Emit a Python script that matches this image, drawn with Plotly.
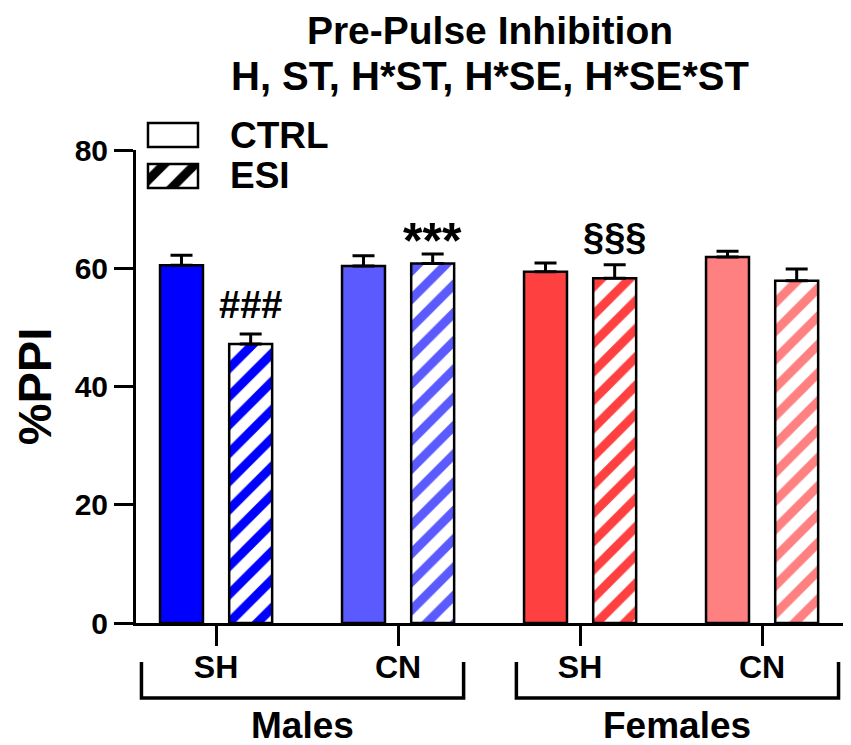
import plotly.graph_objects as go

# ---- data ----
group_ticks = ["SH", "CN", "SH", "CN"]
sex_labels = ["Males", "Females"]
group_colors = ["#0000FF", "#5A5AFF", "#FF4040", "#FF8080"]
ctrl_mean = [60.5, 60.4, 59.4, 61.9]
ctrl_sem = [1.7, 1.7, 1.5, 1.0]
esi_mean = [47.2, 60.8, 58.3, 57.9]
esi_sem = [1.7, 1.6, 2.3, 2.0]
sig_labels = ["###", "***", "§§§", ""]
series_names = ["CTRL", "ESI"]
title_lines = ["Pre-Pulse Inhibition", "H, ST, H*ST, H*SE, H*SE*ST"]

FONT = "Liberation Sans"
xpos = list(range(len(group_ticks)))

fig = go.Figure()

fig.add_trace(go.Bar(
    x=xpos, y=ctrl_mean, name=series_names[0],
    marker=dict(color=group_colors, line=dict(color="black", width=2.5)),
    error_y=dict(type="data", array=ctrl_sem, symmetric=False,
                 arrayminus=[0] * 4, color="black", thickness=3, width=11),
    showlegend=False,
))
fig.add_trace(go.Bar(
    x=xpos, y=esi_mean, name=series_names[1],
    marker=dict(color=group_colors, line=dict(color="black", width=2.5),
                pattern=dict(shape="/", bgcolor=group_colors, fgcolor="white",
                             size=20, solidity=0.45, fillmode="replace")),
    error_y=dict(type="data", array=esi_sem, symmetric=False,
                 arrayminus=[0] * 4, color="black", thickness=3, width=11),
    showlegend=False,
))

# legend swatches (drawn as bars on an auxiliary axis pair)
fig.add_trace(go.Bar(
    x=[1, 1], y=[0, 1], base=0, orientation="h", width=0.585,
    xaxis="x2", yaxis="y2", showlegend=False, hoverinfo="skip",
    marker=dict(color=["black", "white"], line=dict(color="black", width=2.5),
                pattern=dict(shape=["/", ""], bgcolor=["black", "white"],
                             fgcolor="white", size=22, solidity=0.4,
                             fillmode="replace")),
))

ann = []
# significance marks
sig_sizes = [38, 50, 38, 36]
sig_pad = [1.0, -2.8, 0.8, 0.0]
for i, lab in enumerate(sig_labels):
    if not lab:
        continue
    ann.append(dict(x=i + 0.19, y=esi_mean[i] + esi_sem[i] + sig_pad[i], xref="x", yref="y",
                    text="<b>%s</b>" % lab, showarrow=False, yanchor="bottom",
                    font=dict(family=FONT, size=sig_sizes[i], color="black")))

# second title line
ann.append(dict(x=0.5, y=1.0768, xref="paper", yref="paper", showarrow=False,
                text="<b>%s</b>" % title_lines[1], yanchor="middle",
                font=dict(family=FONT, size=40, color="black")))

# legend texts
ann.append(dict(x=0.130, y=0.9606, xref="paper", yref="paper", showarrow=False,
                text="<b>%s</b>" % series_names[0], xanchor="left", yanchor="middle",
                font=dict(family=FONT, size=37, color="black")))
ann.append(dict(x=0.130, y=0.880, xref="paper", yref="paper", showarrow=False,
                text="<b>%s</b>" % series_names[1], xanchor="left", yanchor="middle",
                font=dict(family=FONT, size=37, color="black")))

# sex brackets
brackets = [(-0.41, 1.36), (1.65, 3.42)]
shapes = []
for (x0, x1), lab in zip(brackets, sex_labels):
    shapes.append(dict(type="path", xref="x", yref="paper",
                       path=f"M {x0},-0.0768 L {x0},-0.1476 L {x1},-0.1476 L {x1},-0.0768",
                       line=dict(color="black", width=3.5)))
    ann.append(dict(x=(x0 + x1) / 2, y=-0.2008, xref="x", yref="paper", showarrow=False,
                    text="<b>%s</b>" % lab, yanchor="middle",
                    font=dict(family=FONT, size=37, color="black")))

fig.update_layout(
    width=843, height=737,
    margin=dict(l=128, r=7, t=107, b=122),
    plot_bgcolor="white", paper_bgcolor="white",
    barmode="group", bargap=0.24, bargroupgap=0.379,
    annotations=ann, shapes=shapes,
    title=dict(text="<b>%s</b>" % title_lines[0],
               x=0.5, xref="paper", xanchor="center",
               y=0.9701, yref="container", yanchor="middle",
               font=dict(family=FONT, size=39, color="black")),
    xaxis=dict(range=[-0.44, 3.45], tickvals=xpos, ticktext=["<b>%s</b>" % t for t in group_ticks],
               showline=True, linecolor="black", linewidth=3,
               ticks="outside", ticklen=20, tickwidth=3, tickcolor="black",
               showgrid=False, zeroline=False, ticklabelstandoff=-6, automargin=False,
               tickfont=dict(family=FONT, size=32, color="black")),
    yaxis=dict(range=[0, 80], dtick=20, domain=[0, 0.931], automargin=False,
               showline=True, linecolor="black", linewidth=3,
               ticks="outside", ticklen=19, tickwidth=3, tickcolor="black",
               showgrid=False, zeroline=False,
               title=dict(text="<b>%PPI</b>", standoff=45,
                          font=dict(family=FONT, size=47, color="black")),
               tickfont=dict(family=FONT, size=30, color="black", weight="bold")),
    xaxis2=dict(domain=[0.0134, 0.0911], range=[-0.05, 1.05], visible=False,
                anchor="y2", fixedrange=True),
    yaxis2=dict(domain=[0.8517, 0.9889], range=[-0.35, 1.35], visible=False,
                anchor="x2", fixedrange=True),
)

fig.write_html("out.html")
